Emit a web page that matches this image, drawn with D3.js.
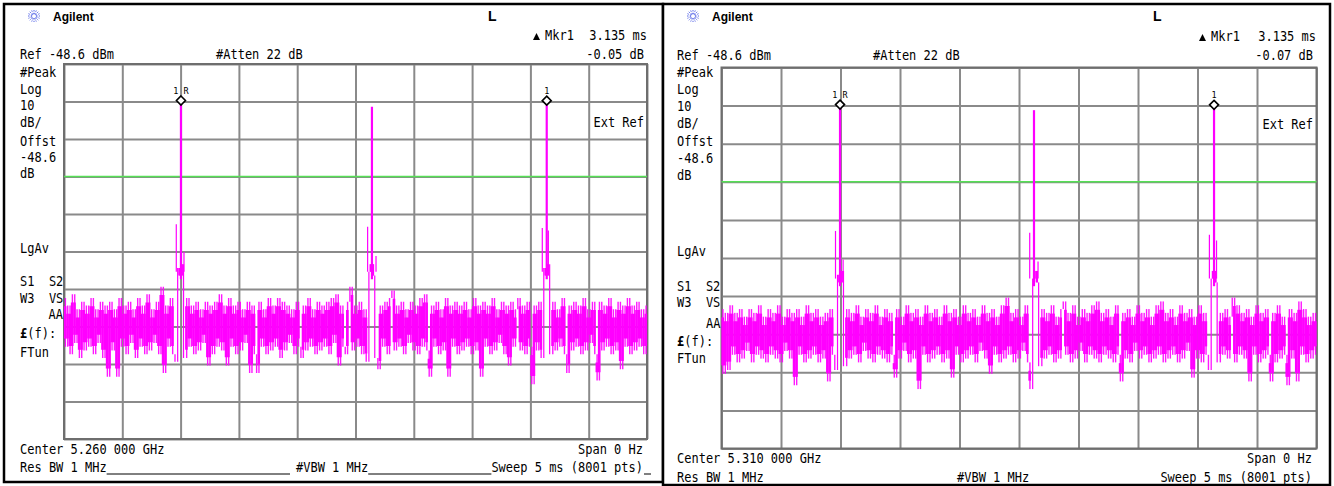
<!DOCTYPE html>
<html><head><meta charset="utf-8">
<script src="https://cdn.jsdelivr.net/npm/d3@7"></script>
<style>
body{margin:0;background:#fff;}
svg{display:block;}
text{white-space:pre;}
</style></head><body>
<svg id="c" width="1334" height="486"></svg>
<script>
// ---------- data ----------
const gridTimes = [0,0.5,1,1.5,2,2.5,3,3.5,4,4.5,5];                 // ms
const gridLevels = [-148.6,-138.6,-128.6,-118.6,-108.6,-98.6,-88.6,-78.6,-68.6,-58.6,-48.6]; // dBm
const displayLine = -78.6;
const sampleStep = 0.02; // ms per trace sample (reduced trace)

const noiseL = [
-111,-124,-113,-126,-110,-123,-114,-127,-112,-125,
-113,-124,-111,-126,-114,-123,-112,-127,-113,-132,
-112,-125,-114,-132,-111,-124,-113,-126,-112,-123,
-114,-127,-111,-124,-113,-126,-110,-125,-114,-123,
-112,-126,-108,-131,-113,-124,-111,-126,-128,-103,
-105,-102,-127,-111,-124,-113,-126,-112,-125,-114,
-123,-112,-129,-113,-126,-112,-124,-110,-125,-113,
-129,-111,-124,-113,-126,-112,-125,-114,-123,-112,
-131,-113,-126,-131,-112,-124,-114,-126,-111,-125,
-113,-124,-111,-127,-112,-125,-113,-123,-114,-126,
-112,-124,-127,-113,-125,-111,-124,-114,-126,-112,
-125,-113,-124,-112,-126,-111,-123,-110,-129,-113,
-124,-126,-112,-108,-125,-113,-124,-112,-126,-114,
-128,-104,-102,-105,-127,-130,-113,-124,-112,-126,
-111,-109,-125,-113,-124,-112,-126,-114,-123,-112,
-125,-113,-126,-111,-124,-110,-125,-132,-113,-124,
-112,-126,-114,-125,-111,-132,-113,-124,-112,-126,
-113,-125,-112,-124,-114,-126,-111,-125,-113,-132,
-112,-124,-113,-126,-111,-125,-114,-123,-112,-126,
-113,-129,-112,-124,-114,-111,-125,-113,-126,-112,
-124,-134,-113,-125,-112,-127,-103,-105,-102,-126,
-112,-125,-114,-124,-111,-126,-131,-113,-125,-112,
-124,-113,-126,-111,-125,-114,-123,-112,-126,-133,
-112,-125,-113,-124,-111,-126,-114,-125,-112,-130,
-113,-124,-111,-126,-113,-125,-112,-124,-114,-126,
-113];

const noiseR = [
-112,-129,-113,-128,-111,-124,-113,-126,-112,-125,
-114,-123,-112,-126,-113,-124,-111,-125,-114,-126,
-112,-124,-113,-125,-111,-126,-114,-123,-112,-125,
-113,-132,-112,-124,-114,-126,-111,-125,-113,-124,
-112,-126,-114,-125,-113,-131,-112,-124,-128,-103,
-105,-102,-127,-112,-125,-113,-124,-111,-126,-114,
-123,-112,-125,-113,-126,-111,-124,-114,-125,-112,
-126,-113,-124,-130,-112,-125,-114,-123,-111,-126,
-113,-125,-112,-133,-114,-124,-111,-126,-113,-125,
-112,-124,-114,-126,-111,-125,-113,-130,-112,-124,
-114,-126,-111,-125,-113,-124,-112,-126,-114,-123,
-111,-125,-113,-129,-112,-124,-114,-126,-111,-125,
-109,-124,-113,-126,-112,-125,-114,-123,-111,-126,
-133,-104,-102,-105,-127,-112,-125,-113,-124,-111,
-126,-114,-125,-112,-110,-124,-113,-126,-111,-125,
-114,-123,-112,-126,-113,-124,-111,-125,-110,-126,
-113,-124,-112,-125,-114,-126,-111,-124,-131,-113,
-125,-112,-126,-114,-123,-111,-125,-113,-124,-112,
-126,-114,-125,-111,-124,-110,-126,-113,-125,-112,
-124,-114,-126,-111,-125,-113,-123,-112,-130,-114,
-125,-111,-126,-113,-124,-128,-104,-102,-105,-126,
-113,-124,-112,-125,-114,-109,-126,-111,-124,-113,
-125,-112,-131,-114,-124,-111,-126,-113,-125,-112,
-124,-131,-113,-126,-111,-125,-114,-124,-132,-112,
-125,-113,-131,-110,-124,-112,-126,-114,-125,-113,
-124];

const burstTimesL = [1.003, 2.641, 4.140];
const burstPeaksL = [-58.6, -60.0, -58.65];
const subLeftTimesL = [0.963, 2.604, 4.102];
const subLeftLevelsL = [-91.3, -92.0, -92.3];
const subRightTimesL = [1.029, 2.676, 4.154];
const subRightLevelsL = [-98.7, -99.8, -93.0];

const burstTimesR = [0.996, 2.626, 4.139];
const burstPeaksR = [-58.6, -59.8, -58.67];
const subLeftTimesR = [0.958, 2.590, 4.100];
const subLeftLevelsR = [-91.5, -92.0, -92.5];
const subRightTimesR = [1.022, 2.660, 4.160];
const subRightLevelsR = [-99.0, -99.5, -94.0];

const shoulderLevel = -104;
const markerBurstIdx = [0, 2];
const markerLabels = ["1 R", "1"];

const sideLabels = ["#Peak","Log","10","dB/","Offst","-48.6","dB","LgAv","S1  S2","W3  VS","AA","(f):","FTun"];
const headerL = {ref:"Ref -48.6 dBm", atten:"#Atten 22 dB", mkr:"Mkr1", mkrVal:"3.135 ms", delta:"-0.05 dB",
  center:"Center 5.260 000 GHz", span:"Span 0 Hz", rbw:"Res BW 1 MHz", vbw:"#VBW 1 MHz", sweep:"Sweep 5 ms (8001 pts)"};
const headerR = {ref:"Ref -48.6 dBm", atten:"#Atten 22 dB", mkr:"Mkr1", mkrVal:"3.135 ms", delta:"-0.07 dB",
  center:"Center 5.310 000 GHz", span:"Span 0 Hz", rbw:"Res BW 1 MHz", vbw:"#VBW 1 MHz", sweep:"Sweep 5 ms (8001 pts)"};

// ---------- layout ----------
const panels = [
  {frame:[4,4,663,482], grid:[64,64,647,439], noise:noiseL, bt:burstTimesL, bp:burstPeaksL,
   slt:subLeftTimesL, sll:subLeftLevelsL, srt:subRightTimesL, srl:subRightLevelsL, h:headerL,
   tx:20, bottomY:[454,472], sideY:[77,94,110,127,146,162,178,253,286,303,319,338,357],
   logoX:34, agX:53, lX:488, triX:533, mkrX:545, rightX:644, extY:127, vbwX:296, underline:true, topRow:[21,40,59]},
  {frame:[663,4,1330,485], grid:[721.5,67.5,1316.5,448.5], noise:noiseR, bt:burstTimesR, bp:burstPeaksR,
   slt:subLeftTimesR, sll:subLeftLevelsR, srt:subRightTimesR, srl:subRightLevelsR, h:headerR,
   tx:677, bottomY:[463,482], sideY:[77,94,111,128,146,163,180,256,291,307,328,346,363],
   logoX:693, agX:712, lX:1153, triX:1199, mkrX:1211, rightX:1313, extY:129, vbwX:957, underline:false, topRow:[21,41,60]}
];

const svg = d3.select("#c");
const MAG = "#ff00ff";
const monoFont = "'DejaVu Sans Mono', monospace";

function txt(g, x, y, s, anchor, size) {
  return g.append("text")
    .attr("transform", `translate(${x},${y}) scale(1,1.15)`)
    .attr("font-family", monoFont).attr("font-size", size || 12)
    .attr("text-anchor", anchor || "start").attr("fill", "#000").text(s);
}

panels.forEach(P => {
  const g = svg.append("g");
  const [gx0, gy0, gx1, gy1] = P.grid;
  const x = d3.scaleLinear().domain([0, 5]).range([gx0, gx1]);
  const y = d3.scaleLinear().domain([-148.6, -48.6]).range([gy1, gy0]);

  // frame
  const [fx0, fy0, fx1, fy1] = P.frame;
  g.append("rect").attr("x", fx0).attr("y", fy0).attr("width", fx1 - fx0).attr("height", fy1 - fy0)
    .attr("fill", "#fff").attr("stroke", "#000").attr("stroke-width", 2.5);

  // grid via axes
  const gxAxis = g.append("g").attr("transform", `translate(0,${gy1})`)
    .call(d3.axisBottom(x).tickValues(gridTimes).tickSize(-(gy1 - gy0)).tickFormat(""));
  const gyAxis = g.append("g").attr("transform", `translate(${gx0},0)`)
    .call(d3.axisLeft(y).tickValues(gridLevels).tickSize(-(gx1 - gx0)).tickFormat(""));
  [gxAxis, gyAxis].forEach(a => {
    a.select(".domain").remove();
    a.selectAll(".tick line").attr("stroke", "#8a8a8a").attr("stroke-width", 2);
  });
  g.append("rect").attr("x", gx0).attr("y", gy0).attr("width", gx1 - gx0).attr("height", gy1 - gy0)
    .attr("fill", "none").attr("stroke", "#6e6e6e").attr("stroke-width", 2);

  // display line
  g.append("line").attr("x1", x(0)).attr("x2", x(5)).attr("y1", y(displayLine)).attr("y2", y(displayLine))
    .attr("stroke", "#55e055").attr("stroke-width", 1.5);

  // noise trace: each pair of consecutive samples drawn as a peak-detected column
  const pairs = d3.pairs(P.noise).map((p, i) => ({i, hi: Math.max(p[0], p[1]), lo: Math.min(p[0], p[1]),
    edge: Math.max(p[0], p[1]) > -107 && Math.min(p[0], p[1]) < -107}));
  const stepPx = x(sampleStep) - x(0);
  const tr = g.append("g");
  // thin full-extent strokes
  tr.selectAll("rect.thin").data(pairs).join("rect").attr("class", "thin")
    .attr("x", d => x(d.i * sampleStep) + (d.edge ? (P.noise[d.i] < P.noise[d.i + 1] ? stepPx - 1.2 : 0) : stepPx * 0.3))
    .attr("width", d => d.edge ? 1.2 : 1.4)
    .attr("y", d => y(d.hi)).attr("height", d => y(d.lo) - y(d.hi))
    .attr("fill", MAG).attr("opacity", d => d.edge ? 1 : 0.9);
  // dense inner core
  tr.selectAll("rect.core").data(pairs.filter(d => !d.edge && d.hi - d.lo > 5)).join("rect").attr("class", "core")
    .attr("x", d => x(d.i * sampleStep) - 0.15)
    .attr("width", stepPx + 0.3)
    .attr("y", d => y(d.hi - 2.2)).attr("height", d => y(d.lo + 2.2) - y(d.hi - 2.2))
    .attr("fill", MAG);
  // shoulder clusters
  tr.selectAll("rect.sh").data(pairs.filter(d => d.lo > -107)).join("rect").attr("class", "sh")
    .attr("x", d => x(d.i * sampleStep))
    .attr("width", stepPx)
    .attr("y", d => y(d.hi)).attr("height", d => Math.max(1.5, y(d.lo) - y(d.hi)))
    .attr("fill", MAG);

  // bursts
  P.bt.forEach((t, i) => {
    g.append("line").attr("x1", x(P.slt[i])).attr("x2", x(P.slt[i]))
      .attr("y1", y(shoulderLevel)).attr("y2", y(P.sll[i])).attr("stroke", MAG).attr("stroke-width", 1.2);
    g.append("line").attr("x1", x(P.srt[i])).attr("x2", x(P.srt[i]))
      .attr("y1", y(shoulderLevel)).attr("y2", y(P.srl[i])).attr("stroke", MAG).attr("stroke-width", 1.2);
    g.append("line").attr("x1", x(t)).attr("x2", x(t))
      .attr("y1", y(shoulderLevel - 2)).attr("y2", y(P.bp[i])).attr("stroke", MAG).attr("stroke-width", 2.2);
  });

  // markers
  markerBurstIdx.forEach((bi, k) => {
    const mx = x(P.bt[bi]), my = y(P.bp[bi]) - 1;
    g.append("path").attr("d", `M${mx},${my - 4.5}L${mx + 4.5},${my}L${mx},${my + 4.5}L${mx - 4.5},${my}Z`)
      .attr("fill", "#fff").attr("stroke", "#000").attr("stroke-width", 1.6);
    g.append("text").attr("x", mx).attr("y", my - 7).attr("text-anchor", "middle")
      .attr("font-family", monoFont).attr("font-size", 8.5).attr("fill", "#000").text(markerLabels[k]);
  });

  // header: logo (starburst)
  const lx = P.logoX, ly = 16;
  for (let a = 0; a < 8; a++) {
    const ang = a * Math.PI / 8;
    g.append("line").attr("x1", lx - 6 * Math.cos(ang)).attr("y1", ly - 6 * Math.sin(ang))
      .attr("x2", lx + 6 * Math.cos(ang)).attr("y2", ly + 6 * Math.sin(ang))
      .attr("stroke", "#2b3fe0").attr("stroke-width", 0.8).attr("stroke-dasharray", "1.5,1.2");
  }
  g.append("circle").attr("cx", lx).attr("cy", ly).attr("r", 1.6).attr("fill", "#fff");
  g.append("text").attr("x", P.agX).attr("y", P.topRow[0]).attr("font-family", "'Liberation Sans', Arial, sans-serif")
    .attr("font-weight", "bold").attr("font-size", 12).attr("fill", "#000").text("Agilent");
  g.append("text").attr("x", P.lX).attr("y", P.topRow[0]).attr("font-family", "'Liberation Sans', Arial, sans-serif")
    .attr("font-weight", "bold").attr("font-size", 14).attr("fill", "#000").text("L");

  // marker readout
  const ty = P.topRow[1];
  g.append("path").attr("d", `M${P.triX},${ty}L${P.triX + 7},${ty}L${P.triX + 3.5},${ty - 7}Z`).attr("fill", "#000");
  txt(g, P.mkrX, ty, P.h.mkr);
  txt(g, P.rightX + 3, ty, P.h.mkrVal, "end");
  txt(g, P.tx, P.topRow[2], P.h.ref);
  txt(g, P.tx + 196, P.topRow[2], P.h.atten);
  txt(g, P.rightX, P.topRow[2], P.h.delta, "end");

  // side labels
  sideLabels.forEach((s, i) => {
    if (s === "AA") txt(g, gx0 - 1, P.sideY[i], s, "end");
    else if (s === "(f):") {
      const t = txt(g, P.tx, P.sideY[i], "");
      t.append("tspan").attr("font-weight", "bold").text("£");
      t.append("tspan").text(s);
    } else txt(g, P.tx, P.sideY[i], s);
  });
  txt(g, P.rightX, P.extY, "Ext Ref", "end");

  // bottom
  txt(g, P.tx, P.bottomY[0], P.h.center);
  txt(g, P.rightX - 1, P.bottomY[0], P.h.span, "end");
  txt(g, P.tx, P.bottomY[1], P.h.rbw);
  txt(g, P.vbwX, P.bottomY[1], P.h.vbw);
  txt(g, P.rightX - 1, P.bottomY[1], P.h.sweep, "end");
  if (P.underline) {
    const uy = P.bottomY[1] + 2;
    [[P.tx + 12 * 7.22, P.vbwX - 6], [P.vbwX + 10 * 7.22, P.rightX - 1 - 21 * 7.22], [P.rightX, P.rightX + 7]].forEach(s => {
      g.append("line").attr("x1", s[0]).attr("x2", s[1]).attr("y1", uy).attr("y2", uy)
        .attr("stroke", "#000").attr("stroke-width", 1);
    });
  }
});
</script>
</body></html>
